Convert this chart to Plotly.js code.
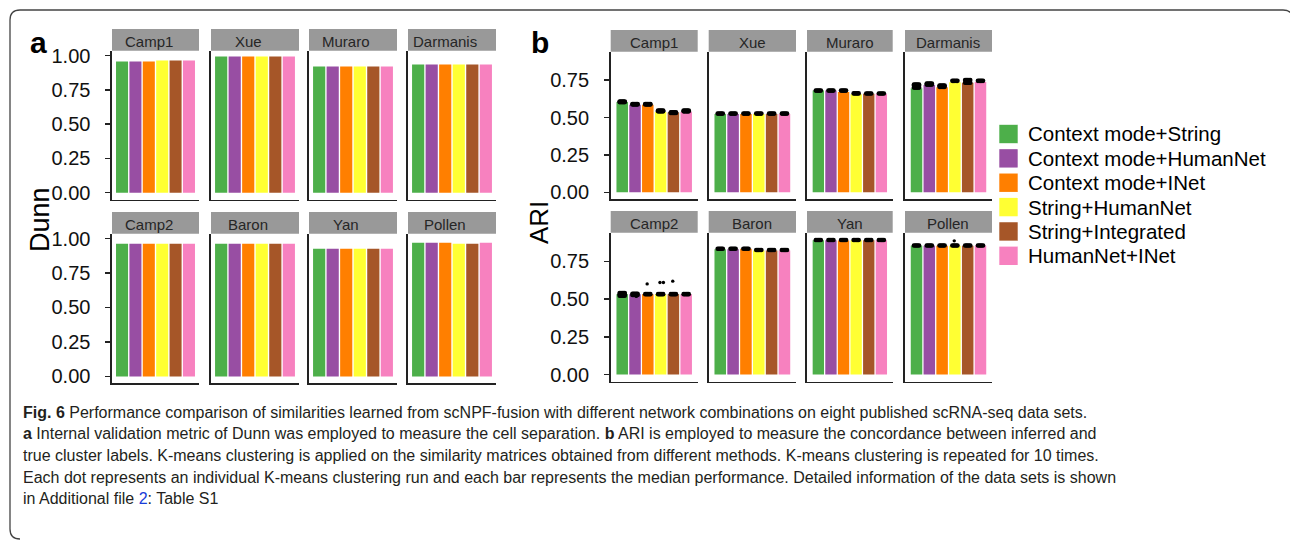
<!DOCTYPE html>
<html>
<head>
<meta charset="utf-8">
<script src="https://cdn.plot.ly/plotly-3.0.1.min.js"></script>
<style>html,body{margin:0;padding:0;background:#fff;}#chart{width:1290px;height:540px;}</style>
</head>
<body>
<div id="chart"></div>
<script>
// ---------------- DATA ----------------
const datasets = ['Camp1', 'Xue', 'Muraro', 'Darmanis', 'Camp2', 'Baron', 'Yan', 'Pollen'];
const methods = ['Context mode+String', 'Context mode+HumanNet', 'Context mode+INet',
                 'String+HumanNet', 'String+Integrated', 'HumanNet+INet'];
const methodColors = ['#4DAF4A', '#984EA3', '#FF7F00', '#FFFF33', '#A65628', '#F781BF'];

// Dunn (panel a), one value per data set, per method
const dunnCtxString      = [0.956, 0.993, 0.920, 0.934, 0.962, 0.962, 0.925, 0.969];
const dunnCtxHumanNet    = [0.956, 0.993, 0.920, 0.934, 0.962, 0.962, 0.925, 0.969];
const dunnCtxINet        = [0.956, 0.993, 0.920, 0.934, 0.962, 0.962, 0.925, 0.969];
const dunnStrHumanNet    = [0.963, 0.993, 0.920, 0.934, 0.962, 0.962, 0.925, 0.962];
const dunnStrIntegrated  = [0.963, 0.993, 0.920, 0.934, 0.962, 0.962, 0.925, 0.962];
const dunnHumINet        = [0.963, 0.993, 0.920, 0.934, 0.962, 0.962, 0.925, 0.969];

// ARI medians (panel b)
const ariCtxString     = [0.604, 0.524, 0.680, 0.696, 0.533, 0.831, 0.890, 0.853];
const ariCtxHumanNet   = [0.586, 0.524, 0.680, 0.718, 0.533, 0.831, 0.890, 0.853];
const ariCtxINet       = [0.586, 0.524, 0.671, 0.702, 0.533, 0.833, 0.888, 0.853];
const ariStrHumanNet   = [0.537, 0.524, 0.655, 0.736, 0.533, 0.822, 0.890, 0.853];
const ariStrIntegrated = [0.533, 0.524, 0.658, 0.733, 0.533, 0.822, 0.890, 0.853];
const ariHumINet       = [0.539, 0.524, 0.658, 0.738, 0.533, 0.822, 0.890, 0.853];

// ARI clustering runs (distinct run values forming the dot clusters)
const runsCtxString     = [[0.603, 0.607], [0.526], [0.680], [0.700, 0.712, 0.720], [0.522, 0.532, 0.540], [0.834], [0.892], [0.855]];
const runsCtxHumanNet   = [[0.587, 0.590], [0.526], [0.680], [0.720, 0.727], [0.527, 0.535], [0.834], [0.892], [0.855]];
const runsCtxINet       = [[0.587, 0.590], [0.526], [0.680], [0.705, 0.714], [0.533], [0.834], [0.892], [0.855]];
const runsStrHumanNet   = [[0.541, 0.546], [0.526], [0.661], [0.745], [0.533], [0.825], [0.892], [0.855]];
const runsStrIntegrated = [[0.530, 0.535], [0.526], [0.660], [0.733, 0.750], [0.533], [0.825], [0.892], [0.855]];
const runsHumINet       = [[0.541, 0.546], [0.526], [0.660], [0.745], [0.533], [0.825], [0.892], [0.855]];

// isolated ARI runs (outlying dots)
const outDataset = ['Camp2', 'Camp2', 'Camp2', 'Camp2', 'Camp2', 'Pollen'];
const outMethod  = [1, 2, 3, 3, 4, 3];
const outValue   = [0.518, 0.601, 0.610, 0.610, 0.619, 0.886];

const dunnTicks = [0, 0.25, 0.5, 0.75, 1.0];
const ariTicks = [0, 0.25, 0.5, 0.75];

const captionLines = [
  '<b>Fig. 6</b> Performance comparison of similarities learned from scNPF-fusion with different network combinations on eight published scRNA-seq data sets.',
  '<b>a</b> Internal validation metric of Dunn was employed to measure the cell separation. <b>b</b> ARI is employed to measure the concordance between inferred and',
  'true cluster labels. K-means clustering is applied on the similarity matrices obtained from different methods. K-means clustering is repeated for 10 times.',
  'Each dot represents an individual K-means clustering run and each bar represents the median performance. Detailed information of the data sets is shown',
  'in Additional file <span style="color:#1a3cd8">2</span>: Table S1'
];

// ---------------- LAYOUT HELPERS ----------------
const W = 1290, H = 540;
const px = x => x / W;
const py = y => 1 - y / H;
const FONT = 'Liberation Sans, Arial, sans-serif';

const dunnSeries = [dunnCtxString, dunnCtxHumanNet, dunnCtxINet, dunnStrHumanNet, dunnStrIntegrated, dunnHumINet];
const ariSeries = [ariCtxString, ariCtxHumanNet, ariCtxINet, ariStrHumanNet, ariStrIntegrated, ariHumINet];
const runSeries = [runsCtxString, runsCtxHumanNet, runsCtxINet, runsStrHumanNet, runsStrIntegrated, runsHumINet];

const panels = [
  { cols: [[112, 199], [211, 299], [309, 397], [408, 496]], rows: [[50.7, 199.5], [233.7, 383.3]],
    yrange: [-0.05, 1.035], xrange: [-0.75, 5.75], ticks: dunnTicks, series: dunnSeries, stripShift: -7 },
  { cols: [[610.7, 697.7], [708.7, 796], [807, 892.7], [905, 992]], rows: [[51.7, 199.3], [232.7, 381.7]],
    yrange: [-0.047, 0.94], xrange: [-0.9, 5.9], ticks: ariTicks, series: ariSeries, stripShift: 0 }
];
const STRIP = 21.6;
const xIdx = methods.map((m, i) => i);
const jitter = [-0.2, -0.1, 0, 0.1, 0.2];

const traces = [];
const layout = {
  width: W, height: H, margin: { l: 0, r: 0, t: 0, b: 0 },
  paper_bgcolor: '#ffffff', plot_bgcolor: '#ffffff',
  showlegend: false, shapes: [], annotations: [], font: { family: FONT }
};

let n = 0;
panels.forEach((P, pi) => {
  datasets.forEach((ds, di) => {
    n += 1;
    const r = Math.floor(di / 4), c = di % 4;
    const xa = 'x' + (n === 1 ? '' : n), ya = 'y' + (n === 1 ? '' : n);
    const xkey = 'xaxis' + (n === 1 ? '' : n), ykey = 'yaxis' + (n === 1 ? '' : n);
    const [x0, x1] = P.cols[c];
    const [y0, y1] = P.rows[r];
    layout[xkey] = {
      domain: [px(x0), px(x1)], anchor: ya, range: P.xrange,
      showgrid: false, zeroline: false, showticklabels: false, ticks: '',
      showline: true, linecolor: '#222', linewidth: 1.6, fixedrange: true
    };
    layout[ykey] = {
      domain: [py(y1), py(y0)], anchor: xa, range: P.yrange,
      showgrid: false, zeroline: false, showline: true, linecolor: '#222', linewidth: 1.6,
      tickvals: P.ticks, tickformat: '.2f',
      ticks: c === 0 ? 'outside' : '', ticklen: 5, tickwidth: 1.5, tickcolor: '#222',
      showticklabels: c === 0, ticklabelstandoff: 11,
      tickfont: { family: FONT, size: 20, color: '#111' }, fixedrange: true
    };
    traces.push({
      type: 'bar', x: xIdx, y: P.series.map(s => s[di]), xaxis: xa, yaxis: ya,
      width: 0.9, marker: { color: methodColors, line: { width: 0 } }, hoverinfo: 'skip'
    });
    if (pi === 1) {
      const dx = [], dy = [];
      runSeries.forEach((rs, mi) => {
        rs[di].forEach(v => jitter.forEach(j => { dx.push(mi + j); dy.push(v); }));
      });
      traces.push({ type: 'scatter', mode: 'markers', x: dx, y: dy, xaxis: xa, yaxis: ya,
        marker: { color: '#000', size: 4.6, line: { width: 0 } }, hoverinfo: 'skip', cliponaxis: false });
      const ox = [], oy = [];
      const seen = {};
      outDataset.forEach((d, k) => {
        if (d !== ds) return;
        const key = outMethod[k] + '_' + outValue[k];
        const cnt = seen[key] = (seen[key] || 0) + 1;
        ox.push(outMethod[k] + (cnt === 1 ? (outValue[k] < 0.55 ? 0.1 : -0.05) : 0.22));
        oy.push(outValue[k]);
      });
      if (ox.length) traces.push({ type: 'scatter', mode: 'markers', x: ox, y: oy, xaxis: xa, yaxis: ya,
        marker: { color: '#000', size: 3.4 }, hoverinfo: 'skip', cliponaxis: false });
    }
    // strip
    layout.shapes.push({ type: 'rect', xref: 'paper', yref: 'paper', x0: px(x0), x1: px(x1),
      y0: py(y0), y1: py(y0 - STRIP), fillcolor: '#999999', line: { width: 0 }, layer: 'above' });
    layout.annotations.push({ xref: 'paper', yref: 'paper', x: px((x0 + x1) / 2), y: py(y0 - STRIP / 2 + 2),
      text: ds, showarrow: false, xanchor: 'center', yanchor: 'middle', xshift: P.stripShift,
      font: { family: FONT, size: 15, color: '#262626' } });
  });
});

// axis titles and panel letters
layout.annotations.push({ xref: 'paper', yref: 'paper', x: px(40), y: py(220), text: 'Dunn', textangle: -90,
  showarrow: false, xanchor: 'center', yanchor: 'middle', font: { family: FONT, size: 27, color: '#000' } });
layout.annotations.push({ xref: 'paper', yref: 'paper', x: px(539), y: py(223), text: 'ARI', textangle: -90,
  showarrow: false, xanchor: 'center', yanchor: 'middle', font: { family: FONT, size: 26, color: '#000' } });
layout.annotations.push({ xref: 'paper', yref: 'paper', x: px(28), y: py(43), text: '<b>a</b>',
  showarrow: false, xanchor: 'left', yanchor: 'middle', font: { family: FONT, size: 30, color: '#000' } });
layout.annotations.push({ xref: 'paper', yref: 'paper', x: px(529), y: py(43), text: '<b>b</b>',
  showarrow: false, xanchor: 'left', yanchor: 'middle', font: { family: FONT, size: 30, color: '#000' } });

// legend
methods.forEach((m, i) => {
  const cy = 134 + i * 24.36;
  layout.shapes.push({ type: 'rect', xref: 'paper', yref: 'paper', x0: px(999.3), x1: px(1017.7),
    y0: py(cy + 9.2), y1: py(cy - 9.2), fillcolor: methodColors[i], line: { width: 0 } });
  layout.annotations.push({ xref: 'paper', yref: 'paper', x: px(1026), y: py(cy), text: m,
    showarrow: false, xanchor: 'left', yanchor: 'middle', font: { family: FONT, size: 20.5, color: '#000' } });
});

// caption
const capY = [412, 433.7, 455, 477, 498.5];
captionLines.forEach((t, i) => {
  layout.annotations.push({ xref: 'paper', yref: 'paper', x: px(21), y: py(capY[i]), text: t,
    showarrow: false, xanchor: 'left', yanchor: 'middle', align: 'left',
    font: { family: FONT, size: 16, color: '#231f20' } });
});

// rounded frame
const fr = { l: 10, t: 10, r: 1293, b: 539, rad: 10 };
const P = (x, y) => px(x) + ',' + py(y);
layout.shapes.push({ type: 'path', xref: 'paper', yref: 'paper', layer: 'above',
  path: 'M' + P(fr.l, fr.b - fr.rad) + ' L' + P(fr.l, fr.t + fr.rad) + ' Q' + P(fr.l, fr.t) + ' ' + P(fr.l + fr.rad, fr.t) +
        ' L' + P(fr.r - fr.rad, fr.t) + ' Q' + P(fr.r, fr.t) + ' ' + P(fr.r, fr.t + fr.rad) +
        ' M' + P(fr.l, fr.b - fr.rad) + ' Q' + P(fr.l, fr.b) + ' ' + P(fr.l + fr.rad, fr.b),
  line: { color: '#444', width: 1.3 } });

Plotly.newPlot('chart', traces, layout, { staticPlot: true, displayModeBar: false });
</script>
</body>
</html>
